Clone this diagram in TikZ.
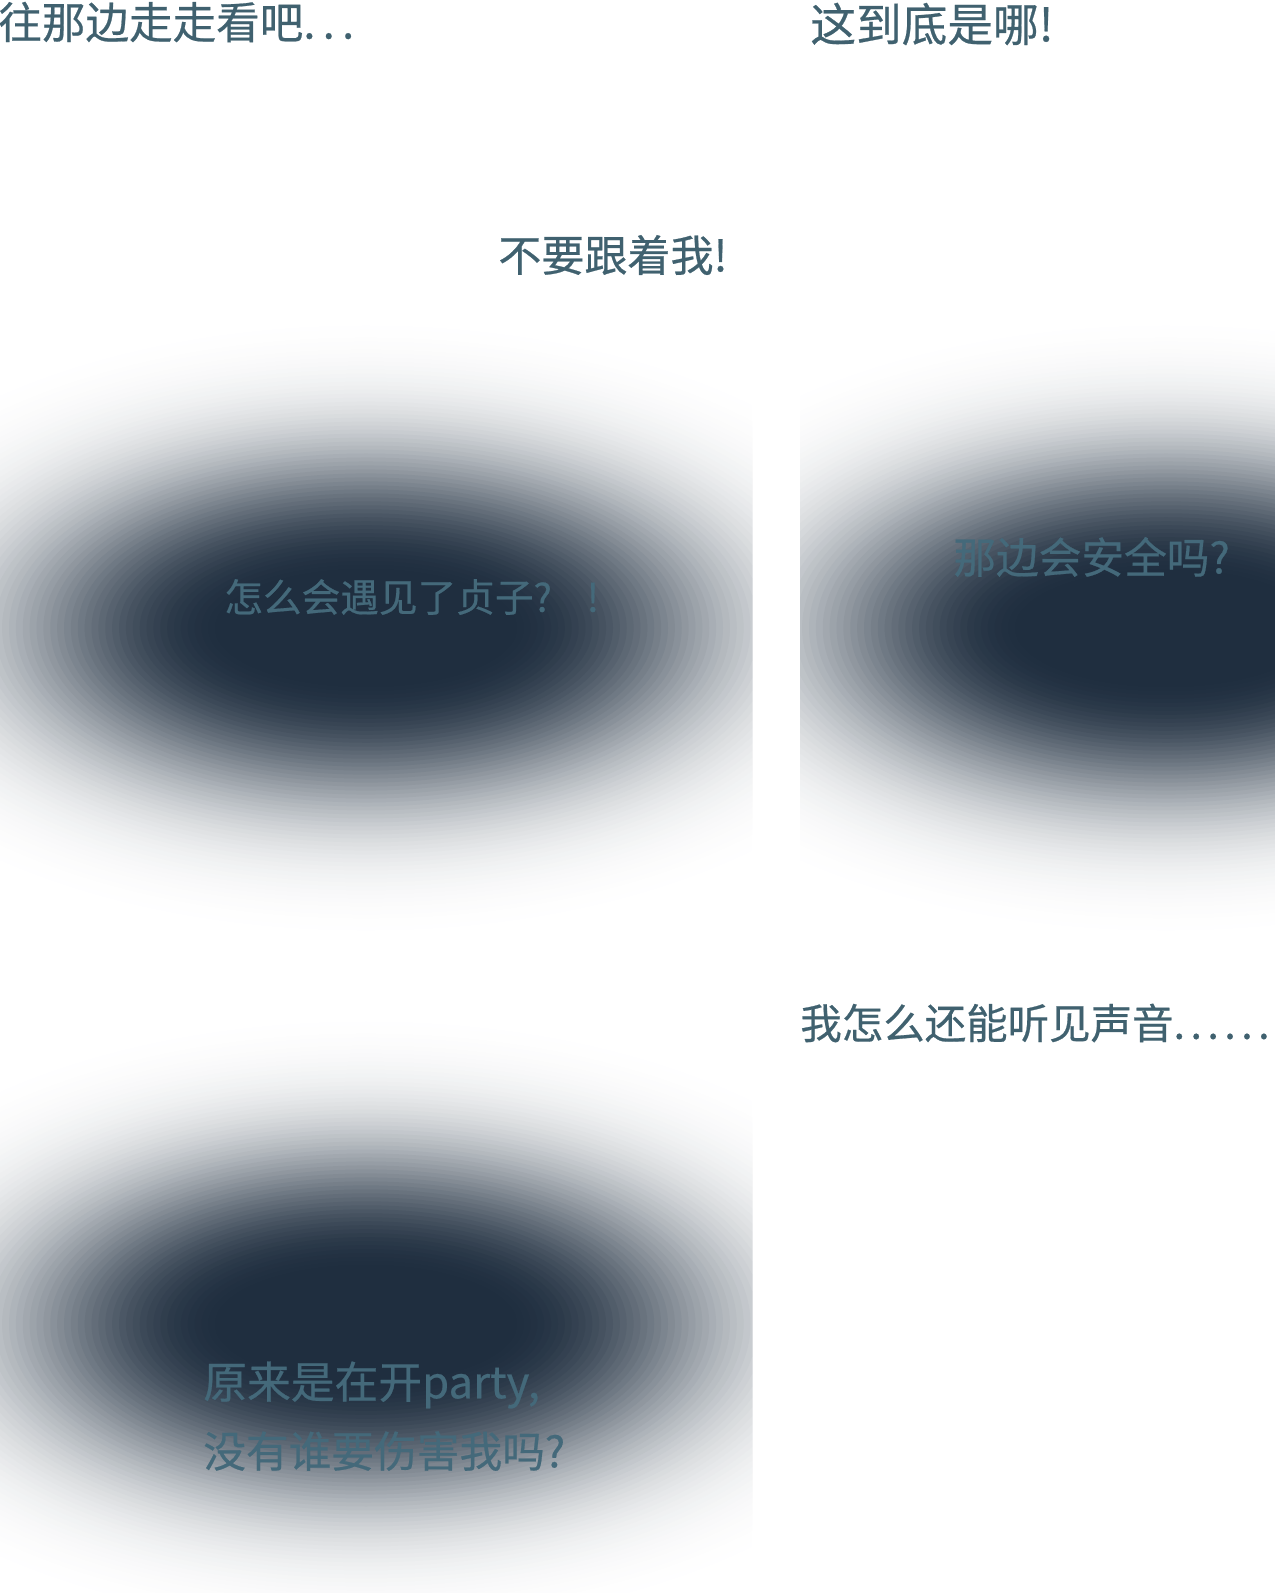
\documentclass[tikz,border=0pt]{standalone}
\usepackage{fontspec}
\setmainfont[FakeBold=0.5]{Noto Sans CJK SC}
\definecolor{nightblue}{HTML}{1F2E3F}
\definecolor{inktext}{HTML}{40616F}
\definecolor{fadedtext}{HTML}{44697A}
\tikzset{
  said/.style={anchor=west,inner sep=0pt,text=inktext,font=\fontsize{#1}{29}\selectfont},
  saiddark/.style={said=#1,text=fadedtext}
}
\begin{document}
\begin{tikzpicture}[x=0.02cm,y=-0.02cm]
\useasboundingbox (0,0) rectangle (1275,1593);
% blurred dark clouds
\foreach \cx/\cy in {366/628,1166/628,366/1324}{
  \begin{scope}
  \clip ({\cx-366},{\cy-340}) rectangle ({\cx+386},{\cy+340});
  \foreach \i in {64,63,...,0}{
    \pgfmathsetmacro\s{\i/64}
    \pgfmathsetmacro\rx{137+440*\s}
    \pgfmathsetmacro\ry{51+255*\s}
    \pgfmathsetmacro\amt{max(0,101*exp(-(\s/0.5)^2.2)-1)}
    \fill[nightblue!\amt!white] (\cx,\cy) ellipse [x radius=\rx,y radius=\ry];
  }
  \end{scope}
}
% top row
\node[said=24.8] (walk) at (-2,22) {往那边走走看吧.\,.\,.};
\node[said=26] (where) at (810,24) {这到底是哪!};
\node[said=24.5] (follow) at (498,255) {不要跟着我!};
% inside the clouds
\node[saiddark=22] (ghost) at (224,597) {怎么会遇见了贞子?\hspace{0.9em}!};
\node[saiddark=24.3] (safe) at (953,557) {那边会安全吗?};
\node[saiddark=24.9] (party) at (203,1385) {原来是在开party,};
\node[saiddark=24.3] (hurt) at (203,1451) {没有谁要伤害我吗?};
% right, lower
\node[said=23.6] (hear) at (800,1023) {我怎么还能听见声音.\kern.13em.\kern.13em.\kern.13em.\kern.13em.\kern.13em.};
\end{tikzpicture}
\end{document}
